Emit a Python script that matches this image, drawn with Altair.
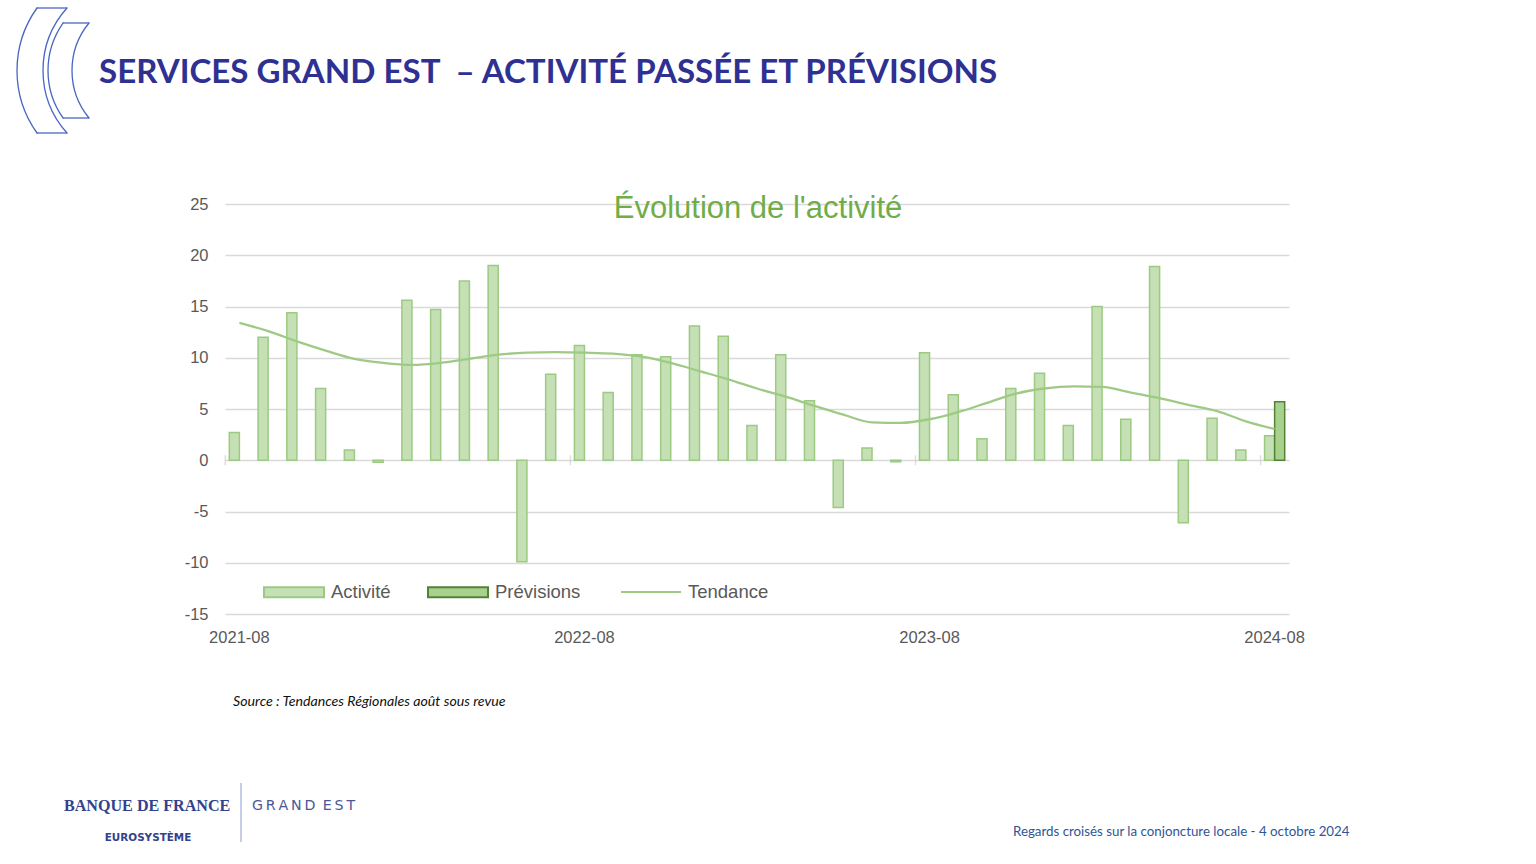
import altair as alt
import pandas as pd
import math

# ---------------- data ----------------
months = [
    "2021-08", "2021-09", "2021-10", "2021-11", "2021-12",
    "2022-01", "2022-02", "2022-03", "2022-04", "2022-05", "2022-06",
    "2022-07", "2022-08", "2022-09", "2022-10", "2022-11", "2022-12",
    "2023-01", "2023-02", "2023-03", "2023-04", "2023-05", "2023-06",
    "2023-07", "2023-08", "2023-09", "2023-10", "2023-11", "2023-12",
    "2024-01", "2024-02", "2024-03", "2024-04", "2024-05", "2024-06",
    "2024-07", "2024-08",
]
activite = [
    2.7, 12.0, 14.4, 7.0, 1.0,
    -0.2, 15.6, 14.7, 17.5, 19.0, -9.9,
    8.4, 11.2, 6.6, 10.3, 10.1, 13.1,
    12.1, 3.4, 10.3, 5.8, -4.6, 1.2,
    -0.15, 10.5, 6.4, 2.1, 7.0, 8.5,
    3.4, 15.0, 4.0, 18.9, -6.1, 4.1,
    1.0, 2.4,
]
prevision_months = ["2024-08"]
previsions = [5.7]
tendance = [
    13.4, 12.6, 11.6, 10.7, 9.9,
    9.5, 9.3, 9.5, 9.9, 10.3, 10.5,
    10.55, 10.5, 10.4, 10.1, 9.5, 8.7,
    7.9, 7.0, 6.2, 5.3, 4.45, 3.7,
    3.65, 4.0, 4.7, 5.6, 6.5, 7.0,
    7.2, 7.15, 6.6, 6.05, 5.4, 4.8,
    3.8, 3.05,
]
series = ["Activité", "Prévisions"]
label_months = ["2021-08", "2022-08", "2023-08", "2024-08"]
y_ticks = [-15, -10, -5, 0, 5, 10, 15, 20, 25]

bar_df = pd.DataFrame(
    {"month": months + prevision_months,
     "serie": ["Activité"] * len(months) + ["Prévisions"] * len(prevision_months),
     "value": activite + previsions}
)
line_df = pd.DataFrame({"month": months, "value": tendance, "lname": "Tendance"})
tick_df = pd.DataFrame({"month": label_months})

# ---------------- style ----------------
W, H = 1064, 410
PL, PT = 225, 204
GREY = "#595959"
FONT = "Liberation Sans"
AX = 16.5
LEG = 18.5

x_scale = alt.Scale(domain=months, paddingInner=0.3, paddingOuter=0.15)
y_scale = alt.Scale(domain=[-15, 25], nice=False, zero=False)

bar_legend = dict(title=None, orient="none", legendX=38, legendY=357,
                  direction="horizontal",
                  symbolType="M-1,-0.17L1,-0.17L1,0.17L-1,0.17Z",
                  symbolSize=3600, symbolStrokeWidth=2,
                  labelFontSize=LEG, labelColor=GREY, labelFont=FONT,
                  labelOffset=6, columnPadding=33, padding=0)

bars = alt.Chart(bar_df).mark_bar(strokeWidth=1.5).encode(
    x=alt.X("month:N", scale=x_scale, sort=months, title=None,
            axis=alt.Axis(values=label_months, labelAngle=0, ticks=False, domain=False,
                          grid=False, labelPadding=15, labelFontSize=AX,
                          labelColor=GREY, labelFont=FONT)),
    xOffset=alt.XOffset("serie:N", scale=alt.Scale(domain=series)),
    y=alt.Y("value:Q", scale=y_scale, title=None,
            axis=alt.Axis(values=y_ticks, ticks=False, domain=False, grid=True,
                          gridColor="#d9d9d9", gridWidth=1.5, labelPadding=17,
                          labelExpr="toString(datum.value)",
                          labelFontSize=AX, labelColor=GREY, labelFont=FONT)),
    fill=alt.Fill("serie:N", scale=alt.Scale(domain=series, range=["#c5e0b4", "#a9d18e"]),
                  legend=alt.Legend(**bar_legend)),
    stroke=alt.Stroke("serie:N", scale=alt.Scale(domain=series, range=["#9cca82", "#548235"]),
                      legend=alt.Legend(**bar_legend)),
)

ticks = alt.Chart(tick_df).mark_tick(orient="vertical", size=10, color="#d0d0d0",
                                     thickness=1.5, xOffset=-4).encode(
    x=alt.X("month:N", scale=x_scale, sort=months, bandPosition=0),
    y=alt.datum(0),
)

trend = alt.Chart(line_df).mark_line(strokeWidth=2.3, interpolate="monotone").encode(
    x=alt.X("month:N", scale=x_scale, sort=months),
    y=alt.Y("value:Q", scale=y_scale),
    color=alt.Color("lname:N", scale=alt.Scale(domain=["Tendance"], range=["#9fca85"]),
                    legend=alt.Legend(title=None, orient="none", legendX=395, legendY=357,
                                      symbolType="stroke", symbolSize=3600,
                                      symbolStrokeWidth=2, labelFontSize=LEG,
                                      labelColor=GREY, labelFont=FONT, labelOffset=6,
                                      padding=0)),
)


def txt(s, x, y, size, color, font=FONT, weight="normal", style="normal", align="left",
        baseline="middle"):
    return alt.Chart(pd.DataFrame({"t": [s]})).mark_text(
        fontSize=size, color=color, font=font, fontWeight=weight, fontStyle=style,
        align=align, baseline=baseline).encode(
        text="t:N", x=alt.value(x - PL), y=alt.value(y - PT))


chart_title = txt("Évolution de l'activité", 758, 209, 31, "#70ad47", align="center")
slide_title = txt("SERVICES GRAND EST\u00a0 – ACTIVITÉ PASSÉE ET PRÉVISIONS", 99, 73, 33.1,
                  "#2e3192", font="Lato", weight="bold")
source = txt("Source : Tendances Régionales août sous revue", 233, 702, 14.2, "#111111",
             font="Lato", style="italic")
footer = txt("Regards croisés sur la conjoncture locale - 4 octobre 2024", 1013, 832, 13.3,
             "#2f5597", font="Lato")
bdf = txt("BANQUE DE FRANCE", 64, 806, 16.1, "#33428a", font="Liberation Serif", weight="bold")
euro = txt("EUROSYSTÈME", 148, 838, 10.4, "#33428a", font="DejaVu Sans", weight="bold",
           align="center")
grand_est = txt("G\u2009R\u2009A\u2009N\u2009D\u2009 E\u2009S\u2009T", 252, 806, 14.2,
                "#4a5896", font="DejaVu Sans")

sep = alt.Chart(pd.DataFrame({"a": [0]})).mark_rule(color="#8f9ac8", strokeWidth=1).encode(
    x=alt.value(241 - PL), x2=alt.value(241 - PL), y=alt.value(783 - PT), y2=alt.value(842 - PT))

# decorative logo (two crescents) -- curves and end segments
LOGO = "#4a66c4"
deco = []
for cx, cy, r, half in [(124.7, 70.5, 107.7, 62.5), (136.4, 70.5, 93.4, 62.5),
                        (130.7, 70.5, 82.7, 47.5), (146.9, 70.5, 74.9, 47.5)]:
    a = math.asin(half / r)
    deco.append(
        alt.Chart(pd.DataFrame({"a": [0]})).mark_arc(
            fillOpacity=0, stroke=LOGO, strokeWidth=1.3,
            radius=r, radius2=r - 0.01,
            theta=1.5 * math.pi - a, theta2=1.5 * math.pi + a).encode(
            x=alt.value(cx - PL), y=alt.value(cy - PT)))
for x1, x2, yy in [(37, 67, 8), (37, 67, 133), (63, 89, 23), (63, 89, 118)]:
    deco.append(
        alt.Chart(pd.DataFrame({"a": [0]})).mark_rule(color=LOGO, strokeWidth=1.3).encode(
            x=alt.value(x1 - PL), x2=alt.value(x2 - PL), y=alt.value(yy - PT),
            y2=alt.value(yy - PT)))

chart = alt.layer(
    bars, ticks, trend, chart_title, slide_title, source, footer, bdf, euro, grand_est, sep,
    *deco,
).properties(
    width=W, height=H,
    autosize=alt.AutoSizeParams(type="none"),
    padding={"left": PL, "top": PT, "right": 1536 - PL - W, "bottom": 864 - PT - H},
    background="white",
).configure_view(stroke=None)

chart.save("out.html", embed_options={"renderer": "svg", "actions": False})
